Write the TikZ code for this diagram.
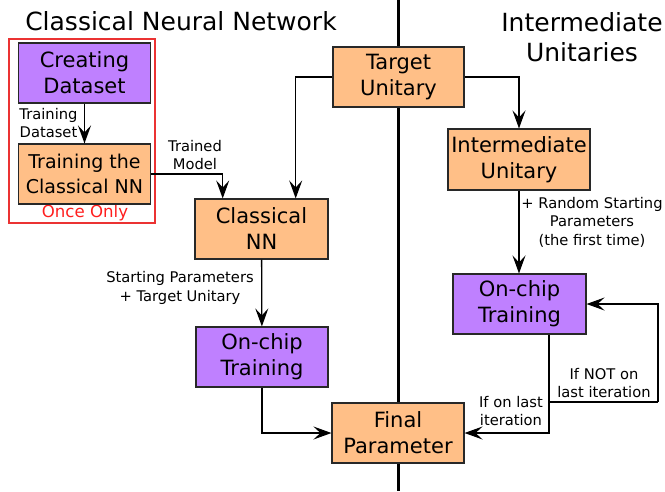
\documentclass[tikz,border=0pt]{standalone}
\usepackage{fontspec}
\setmainfont{DejaVu Sans}
\usetikzlibrary{arrows.meta}
\definecolor{boxorange}{RGB}{255,191,135}
\definecolor{boxpurple}{RGB}{191,128,255}
\definecolor{boxedge}{RGB}{40,40,40}
\definecolor{oncered}{RGB}{255,30,30}
\definecolor{groupred}{RGB}{235,50,50}
\tikzset{
  flowbox/.style={draw=boxedge, line width=1.1pt, minimum width=132pt, minimum height=60pt,
    inner sep=0pt, align=center, font=\fontsize{21}{26}\selectfont},
  orangebox/.style={flowbox, fill=boxorange},
  purplebox/.style={flowbox, fill=boxpurple},
  arr/.style={draw=black, line width=1.3pt, -{Stealth[length=18pt, width=13pt, inset=7pt]}},
  plainline/.style={draw=black, line width=1.3pt},
  lbl/.style={align=center, inner sep=0pt, font=\fontsize{14.7}{18.5}\selectfont},
  heading/.style={align=center, inner sep=0pt, font=\fontsize{25}{30}\selectfont}
}
\begin{document}
\begin{tikzpicture}[x=1pt, y=-1pt]
\useasboundingbox (0,0) rectangle (665,491);

% column divider
\draw[line width=3pt] (398,0) -- (398,491);

% headings
\node[heading] (hleft) at (181,21) {Classical Neural Network};
\node[heading] (hright) at (582,37) {Intermediate\\Unitaries};

% one-time training group
\draw[color=groupred, line width=1.2pt] (9,39) rectangle (155,223);
\node[font=\fontsize{16.6}{20}\selectfont, text=oncered, inner sep=0pt] (once) at (85,213) {Once Only};

% boxes
\node[purplebox] (create) at (84.5,73) {Creating\\Dataset};
\node[orangebox, font=\fontsize{19}{25}\selectfont] (trainnn) at (84.5,174) {Training the\\Classical NN};
\node[orangebox, minimum width=131pt] (target) at (398.5,77) {Target\\Unitary};
\node[orangebox, minimum width=142pt, minimum height=61pt] (inter) at (519,159.5) {Intermediate\\Unitary};
\node[orangebox, minimum width=133pt] (classical) at (261.5,229) {Classical\\NN};
\node[purplebox] (chipL) at (262,357) {On-chip\\Training};
\node[purplebox, minimum width=133pt] (chipR) at (519.5,304) {On-chip\\Training};
\node[orangebox] (final) at (398,433) {Final\\Parameter};

% turning points of the iteration loop
\coordinate (split) at (549,402);
\coordinate (loop) at (658,402);

% connectors
\draw[arr] (create) -- (trainnn);
\draw[arr] (trainnn.east) -| ([xshift=-38.8pt]classical.north);
\draw[arr] (target.west) -| ([xshift=34.2pt]classical.north);
\draw[arr] (target.east) -| (inter.north);
\draw[arr] (classical) -- (chipL);
\draw[arr] (chipL.south) |- (final.west);
\draw[arr] (inter) -- ([xshift=-0.5pt]chipR.north);
\draw[arr] ([xshift=29.5pt]chipR.south) |- (final.east);
\draw[plainline] (split) -- (loop);
\draw[arr] (loop) |- (chipR.east);

% connector labels
\node[lbl] (lblds) at (48.5,123) {Training\\Dataset};
\node[lbl] (lbltm) at (195,155) {Trained\\Model};
\node[lbl] (lblsp) at (180,288) {Starting Parameters\\+ Target Unitary};
\node[lbl] (lblrs) at (592,222) {+ Random Starting\\Parameters\\(the first time)};
\node[lbl] (lblnot) at (604,383) {If NOT on\\last iteration};
\node[lbl] (lbllast) at (511,411) {If on last\\iteration};
\end{tikzpicture}
\end{document}
